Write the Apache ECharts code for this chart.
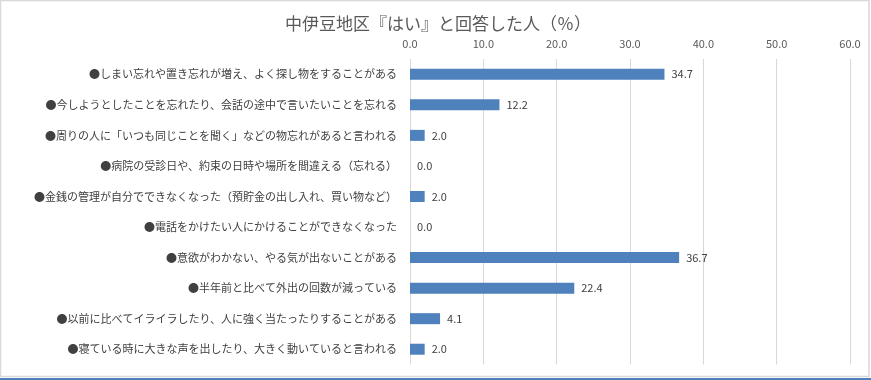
<!DOCTYPE html>
<html><head><meta charset="utf-8">
<script src="https://cdn.jsdelivr.net/npm/echarts@6/dist/echarts.min.js"></script>
<style>html,body{margin:0;padding:0;background:#fff;}#c{width:871px;height:380px;}</style>
</head><body><div id="c"></div>
<script>
const title = '中伊豆地区『はい』と回答した人（％）';
const categories = [
  '●しまい忘れや置き忘れが増え、よく探し物をすることがある',
  '●今しようとしたことを忘れたり、会話の途中で言いたいことを忘れる',
  '●周りの人に「いつも同じことを聞く」などの物忘れがあると言われる',
  '●病院の受診日や、約束の日時や場所を間違える（忘れる）',
  '●金銭の管理が自分でできなくなった（預貯金の出し入れ、買い物など）',
  '●電話をかけたい人にかけることができなくなった',
  '●意欲がわかない、やる気が出ないことがある',
  '●半年前と比べて外出の回数が減っている',
  '●以前に比べてイライラしたり、人に強く当たったりすることがある',
  '●寝ている時に大きな声を出したり、大きく動いていると言われる'
];
const values = [34.7, 12.2, 2.0, 0.0, 2.0, 0.0, 36.7, 22.4, 4.1, 2.0];
const axisMin = 0, axisMax = 60, axisStep = 10;

const font = '"Noto Sans CJK JP", "Noto Sans", sans-serif';
const chart = echarts.init(document.getElementById('c'));
chart.setOption({
  animation: false,
  backgroundColor: '#fff',
  title: {
    text: title, left: 433, top: 10, textAlign: 'center',
    textStyle: {fontFamily: font, fontSize: 17, fontWeight: 'normal', color: '#595959'}
  },
  graphic: [
    {type: 'rect', shape: {x: 0.5, y: 0.5, width: 868.5, height: 376}, style: {fill: 'none', stroke: '#d9d9d9', lineWidth: 1.5}, silent: true},
    {type: 'line', shape: {x1: 0, y1: 379, x2: 871, y2: 379}, style: {stroke: '#4f81bd', lineWidth: 2}, silent: true}
  ],
  grid: {left: 410, right: 21, top: 59, bottom: 15.5, containLabel: false},
  xAxis: {
    type: 'value', position: 'top', min: axisMin, max: axisMax, interval: axisStep,
    axisLine: {show: false}, axisTick: {show: false},
    axisLabel: {formatter: v => v.toFixed(1), color: '#595959', fontSize: 11, fontFamily: font, margin: 10},
    splitLine: {lineStyle: {color: '#d9d9d9', width: 1}}
  },
  yAxis: {
    type: 'category', data: categories, inverse: true,
    axisLine: {show: false}, axisTick: {show: false},
    axisLabel: {color: '#404040', fontSize: 11, fontFamily: font, margin: 13}
  },
  series: [{
    type: 'bar', data: values, barWidth: 11,
    itemStyle: {color: '#4f81bd'},
    label: {show: true, position: 'right', distance: 7, formatter: p => p.value.toFixed(1),
      color: '#404040', fontSize: 11, fontFamily: font}
  }]
});
</script></body></html>
